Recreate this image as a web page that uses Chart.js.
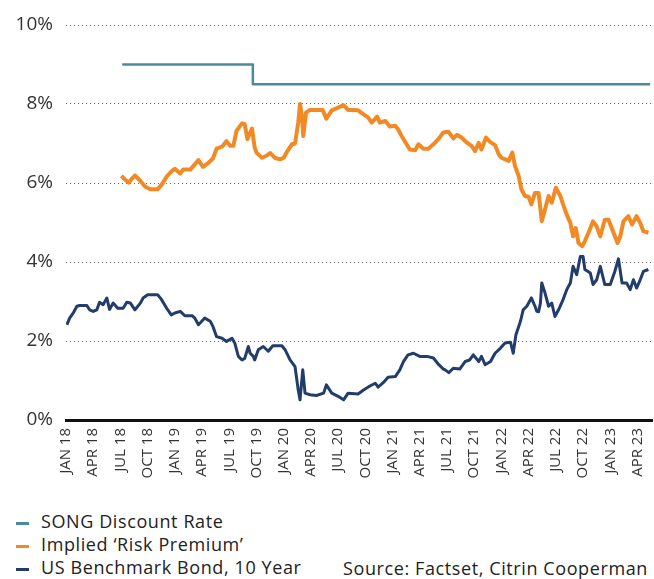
<!DOCTYPE html>
<html>
<head>
<meta charset="utf-8">
<script src="https://cdn.jsdelivr.net/npm/chart.js@4.4.1/dist/chart.umd.min.js"></script>
<style>
  body { margin: 0; background: #fff; width: 654px; height: 579px; overflow: hidden; font-family: 'Open Sans', sans-serif; }
  #wrap { position: absolute; left: 0; top: 0; width: 654px; height: 500px; }
  #legend { position: absolute; left: 16px; top: 510px; color: #222; font-size: 18px; letter-spacing: 0.6px; }
  .item { height: 23px; line-height: 23px; white-space: nowrap; }
  .mark { display: inline-block; width: 13px; height: 3px; margin-right: 12px; vertical-align: middle; }
  #source { position: absolute; left: 343px; top: 557px; font-size: 18px; letter-spacing: 0.6px; color: #222; white-space: nowrap; line-height: 23px; }
</style>
</head>
<body>
<div id="wrap"><canvas id="myChart"></canvas></div>
<div id="legend"></div>
<div id="source">Source: Factset, Citrin Cooperman</div>
<script>
'use strict'
// months counted from JAN 18
let tickMonths = [0, 3, 6, 9, 12, 15, 18, 21, 24, 27, 30, 33, 36, 39, 42, 45, 48, 51, 54, 57, 60, 63];
let tickLabels = ['JAN 18', 'APR 18', 'JUL 18', 'OCT 18', 'JAN 19', 'APR 19', 'JUL 19', 'OCT 19', 'JAN 20', 'APR 20', 'JUL 20', 'OCT 20',
    'JAN 21', 'APR 21', 'JUL 21', 'OCT 21', 'JAN 22', 'APR 22', 'JUL 22', 'OCT 22', 'JAN 23', 'APR 23'];

let seriesNames = ['SONG Discount Rate', 'Implied \u2018Risk Premium\u2019', 'US Benchmark Bond, 10 Year'];
let seriesColors = ['#4b8a9b', '#f18a25', '#223d6b'];

let songMonths = [6.2, 20.6, 20.6, 64.4];
let songValues = [9.0, 9.0, 8.5, 8.5];

let riskMonths = [6.1, 6.5, 6.9, 7.2, 7.6, 8.0, 8.35, 8.7, 9.3, 10.1, 10.55, 11.1, 11.65, 12.0, 12.6, 12.9, 13.7, 14.6, 15.1, 15.7,
    16.2, 16.6, 17.2, 17.7, 18.1, 18.45, 18.8, 19.4, 19.7, 20.0, 20.5, 20.8, 21.0, 21.6, 22.1, 22.5, 23.0, 23.6, 24.0, 24.3,
    24.9, 25.25, 25.6, 25.8, 26.0, 26.16, 26.46, 26.9, 28.3, 28.7, 29.3, 30.0, 30.6, 31.1, 31.5, 32.2, 32.8, 33.3, 33.7, 34.3,
    34.6, 35.2, 35.7, 36.3, 36.6, 37.0, 37.4, 37.9, 38.5, 38.85, 39.4, 39.95, 40.5, 41.05, 41.6, 42.15, 42.7, 43.1, 43.6, 44.2,
    44.7, 45.1, 45.5, 45.8, 46.3, 46.75, 47.3, 47.7, 48.0, 48.4, 48.8, 49.2, 49.5, 49.9, 50.2, 50.6, 51.0, 51.3, 51.7, 52.1,
    52.45, 52.8, 53.2, 53.55, 54.0, 54.5, 54.8, 55.2, 55.6, 55.9, 56.2, 56.5, 56.9, 57.2, 57.6, 58.1, 58.5, 58.9, 59.4, 59.8,
    60.3, 60.8, 61.1, 61.45, 62.0, 62.4, 62.9, 63.3, 63.65, 64.2];
let riskValues = [6.18, 6.09, 6.01, 6.09, 6.19, 6.10, 6.01, 5.91, 5.84, 5.84, 5.96, 6.16, 6.30, 6.36, 6.24, 6.34, 6.34, 6.58, 6.41, 6.51,
    6.62, 6.87, 6.92, 7.06, 6.94, 6.94, 7.32, 7.51, 7.49, 7.11, 7.38, 6.90, 6.77, 6.64, 6.69, 6.76, 6.64, 6.60, 6.64, 6.77,
    6.98, 7.00, 7.53, 8.00, 7.71, 7.19, 7.78, 7.85, 7.85, 7.63, 7.84, 7.91, 7.97, 7.85, 7.85, 7.84, 7.74, 7.66, 7.53, 7.68,
    7.53, 7.57, 7.43, 7.45, 7.36, 7.19, 7.04, 6.85, 6.83, 6.98, 6.87, 6.87, 6.98, 7.11, 7.28, 7.30, 7.13, 7.22, 7.15, 7.02,
    6.94, 6.81, 7.02, 6.85, 7.15, 7.04, 6.96, 6.73, 6.64, 6.60, 6.56, 6.77, 6.43, 6.18, 5.84, 5.67, 5.65, 5.46, 5.75, 5.75,
    5.03, 5.33, 5.67, 5.50, 5.88, 5.67, 5.46, 5.20, 4.99, 4.65, 4.86, 4.48, 4.40, 4.53, 4.74, 5.03, 4.90, 4.65, 5.07, 5.07,
    4.78, 4.48, 4.65, 5.03, 5.16, 4.95, 5.16, 4.99, 4.78, 4.74];

let bondMonths = [0.1, 0.4, 0.8, 1.2, 1.5, 2.3, 2.6, 3.0, 3.4, 3.7, 4.1, 4.5, 4.8, 5.2, 5.7, 6.3, 6.7, 7.1, 7.6, 8.2,
    8.5, 9.0, 10.1, 10.5, 11.1, 11.6, 12.0, 12.6, 13.1, 13.9, 14.2, 14.6, 15.3, 15.9, 16.2, 16.6, 17.2, 17.7, 18.3, 18.6,
    19.0, 19.4, 19.7, 20.1, 20.3, 20.65, 20.8, 21.2, 21.75, 22.3, 22.8, 23.8, 24.15, 24.7, 25.25, 25.6, 25.8, 26.1, 26.35, 26.9,
    27.6, 28.4, 28.7, 29.3, 30.0, 30.6, 31.1, 32.2, 32.8, 33.5, 34.1, 34.4, 35.0, 35.5, 36.3, 36.8, 37.2, 37.7, 38.3, 39.0,
    39.8, 40.5, 41.1, 41.6, 41.8, 42.2, 42.7, 43.4, 44.0, 44.5, 44.9, 45.5, 45.8, 46.2, 46.8, 47.3, 47.9, 48.4, 49.0, 49.3,
    49.6, 50.1, 50.4, 50.8, 51.3, 51.7, 51.9, 52.1, 52.3, 52.45, 52.8, 53.2, 53.55, 53.9, 54.3, 54.8, 55.2, 55.6, 55.9, 56.3,
    56.7, 57.0, 57.2, 57.8, 58.1, 58.5, 58.9, 59.4, 60.0, 60.5, 60.9, 61.3, 61.8, 62.2, 62.55, 62.9, 63.3, 63.65, 64.2];
let bondValues = [2.41, 2.58, 2.71, 2.88, 2.90, 2.90, 2.79, 2.75, 2.79, 2.98, 2.92, 3.09, 2.80, 2.96, 2.83, 2.83, 2.98, 2.96, 2.79, 2.96,
    3.09, 3.17, 3.17, 3.06, 2.83, 2.66, 2.71, 2.75, 2.64, 2.64, 2.58, 2.41, 2.58, 2.50, 2.37, 2.11, 2.07, 1.99, 2.07, 1.95,
    1.61, 1.52, 1.56, 1.86, 1.69, 1.61, 1.52, 1.78, 1.86, 1.74, 1.88, 1.88, 1.78, 1.52, 1.35, 0.76, 0.51, 1.27, 0.68, 0.64,
    0.62, 0.68, 0.89, 0.68, 0.60, 0.51, 0.68, 0.66, 0.76, 0.86, 0.93, 0.83, 0.95, 1.08, 1.10, 1.27, 1.48, 1.65, 1.69, 1.61,
    1.61, 1.57, 1.40, 1.29, 1.27, 1.20, 1.31, 1.29, 1.48, 1.52, 1.65, 1.48, 1.61, 1.40, 1.48, 1.69, 1.82, 1.95, 1.97, 1.69,
    2.16, 2.50, 2.79, 2.88, 3.09, 2.88, 2.75, 2.74, 2.96, 3.47, 3.22, 2.88, 2.96, 2.62, 2.79, 3.05, 3.30, 3.47, 3.89, 3.68,
    4.14, 4.14, 3.81, 3.72, 3.43, 3.55, 3.89, 3.43, 3.43, 3.76, 4.08, 3.47, 3.47, 3.30, 3.55, 3.34, 3.55, 3.76, 3.81];

function toPoints(months, values) {
    let pts = [];
    for (let i = 0; i < months.length; i++) {
        pts.push({ x: months[i], y: values[i] });
    }
    return pts;
}

let legendEl = document.getElementById('legend');
for (let i = 0; i < seriesNames.length; i++) {
    let itemEl = document.createElement('div');
    itemEl.className = 'item';
    itemEl.innerHTML = '<span class="mark" style="background:' + seriesColors[i] + '"></span>' + seriesNames[i];
    legendEl.appendChild(itemEl);
}

let ctx = document.getElementById('myChart').getContext('2d');
let myChart = new Chart(ctx, {
    type: 'line',
    data: {
        datasets: [{
            label: seriesNames[0],
            data: toPoints(songMonths, songValues),
            borderColor: seriesColors[0],
            borderWidth: 2.5
        }, {
            label: seriesNames[1],
            data: toPoints(riskMonths, riskValues),
            borderColor: seriesColors[1],
            borderWidth: 4
        }, {
            label: seriesNames[2],
            data: toPoints(bondMonths, bondValues),
            borderColor: seriesColors[2],
            borderWidth: 3
        }]
    },
    options: {
        responsive: true,
        maintainAspectRatio: false,
        animation: false,
        layout: { padding: { top: 25, right: 2, left: 0, bottom: 0 } },
        elements: { point: { radius: 0 }, line: { tension: 0, borderJoinStyle: 'round' } },
        plugins: { legend: { display: false }, tooltip: { enabled: false } },
        scales: {
            x: {
                type: 'linear',
                min: 0,
                max: 64.6,
                afterFit: (s) => { s.height = 80; s.paddingLeft = 0; s.paddingRight = 0; },
                afterBuildTicks: (s) => { s.ticks = tickMonths.map(v => ({ value: v })); },
                grid: { display: false, drawTicks: false },
                border: { display: true, color: '#111', width: 3 },
                ticks: {
                    autoSkip: false,
                    minRotation: 90,
                    maxRotation: 90,
                    padding: 8,
                    color: '#333',
                    font: { family: 'Open Sans', size: 15 },
                    callback: (v, i) => tickLabels[i]
                }
            },
            y: {
                min: 0,
                max: 10,
                afterFit: (s) => { s.width = 66; },
                grid: { color: '#666', lineWidth: 1, drawTicks: false },
                border: { display: false, dash: [1, 3] },
                ticks: {
                    stepSize: 2,
                    padding: 13,
                    color: '#333',
                    font: { family: 'Open Sans', size: 19 },
                    callback: (v) => v + '%'
                }
            }
        }
    }
});
</script>
</body>
</html>
